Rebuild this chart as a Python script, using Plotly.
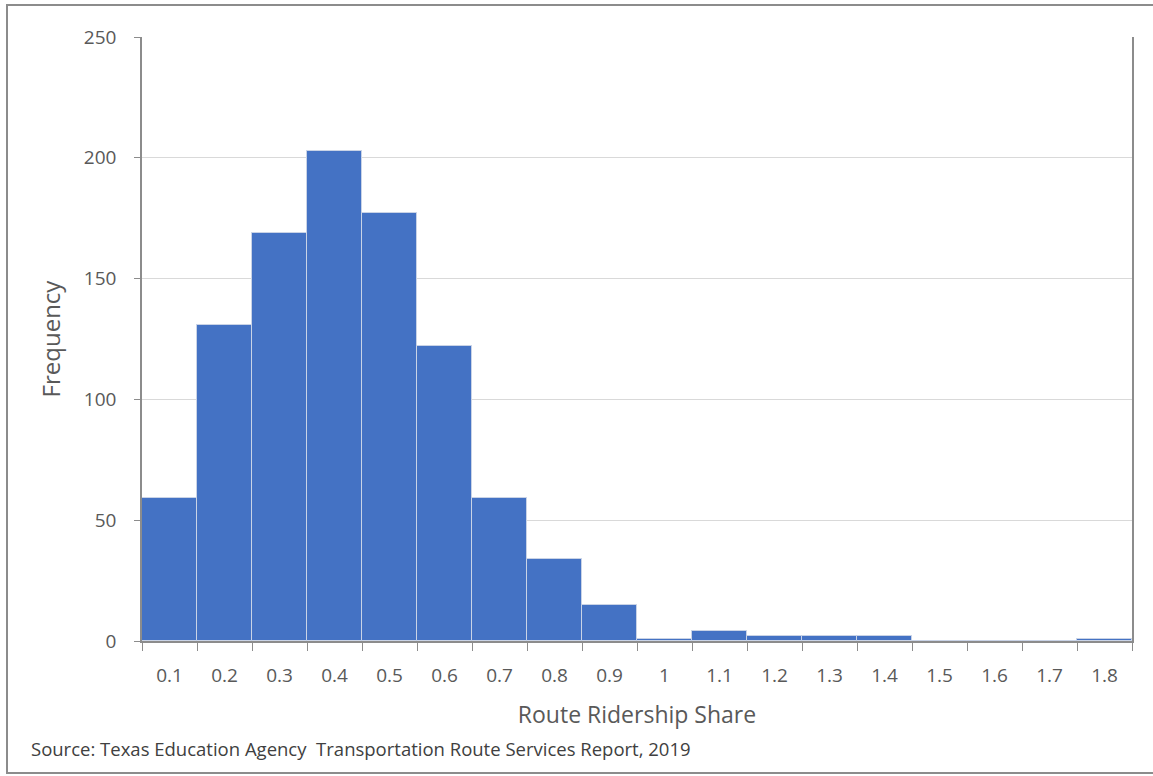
import plotly.graph_objects as go

categories = ["0.1", "0.2", "0.3", "0.4", "0.5", "0.6", "0.7", "0.8", "0.9", "1",
              "1.1", "1.2", "1.3", "1.4", "1.5", "1.6", "1.7", "1.8"]
frequency = [59, 131, 169, 203, 177, 122, 59, 34, 15, 1, 4, 2, 2, 2, 0, 0, 0, 1]
y_ticks = [0, 50, 100, 150, 200, 250]

FONT = "Open Sans, Noto Sans, DejaVu Sans, sans-serif"
TXT = "#595959"

fig = go.Figure(go.Bar(
    x=categories, y=frequency,
    marker=dict(color="#4472C4", line=dict(color="#c9d3e6", width=1)),
    width=1.0,
))

fig.update_layout(
    width=1153, height=776,
    margin=dict(l=142, r=21, t=37, b=135),
    paper_bgcolor="white", plot_bgcolor="white",
    bargap=0,
    showlegend=False,
    font=dict(family=FONT, size=20, color=TXT),
    xaxis=dict(
        type="category",
        tickson="boundaries",
        ticks="outside", ticklen=8, tickcolor="#8c8c8c",
        showline=True, linecolor="#8c8c8c", linewidth=1.5,
        showgrid=False,
        ticklabelstandoff=16,
        tickfont=dict(size=19, color=TXT),
        title=dict(text="Route Ridership Share", font=dict(size=23, color=TXT), standoff=20),
    ),
    yaxis=dict(
        range=[0, 250], tickvals=y_ticks,
        ticks="outside", ticklen=6, tickcolor="#8c8c8c",
        showline=True, linecolor="#8c8c8c", linewidth=1.5, mirror=True,
        showgrid=True, gridcolor="#d9d9d9", gridwidth=1,
        zeroline=False,
        ticklabelstandoff=14,
        tickfont=dict(size=19, color=TXT),
        title=dict(text="Frequency", font=dict(size=24, color=TXT), standoff=16),
    ),
)

fig.add_annotation(
    text="Source: Texas Education Agency  Transportation Route Services Report, 2019",
    xref="paper", yref="paper", x=(29 - 142) / 990, y=(641 - 748) / 604,
    xanchor="left", yanchor="middle", showarrow=False,
    font=dict(size=18.5, color="#404040"),
)

fig.add_shape(
    type="rect", xref="paper", yref="paper",
    x0=(7 - 142) / 990, x1=(1160 - 142) / 990, y0=(641 - 773) / 604, y1=(641 - 5) / 604,
    line=dict(color="#8c8c8c", width=2), fillcolor="rgba(0,0,0,0)",
)

fig.write_html("out.html", config={"displayModeBar": False},
               post_script="document.body.style.margin='0';")
